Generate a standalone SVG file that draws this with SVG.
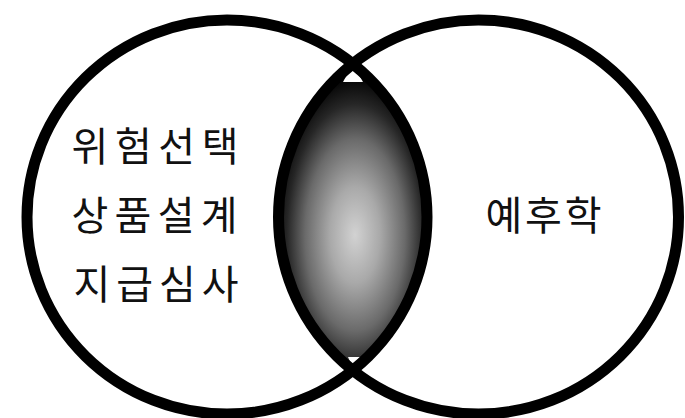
<svg xmlns="http://www.w3.org/2000/svg" width="685" height="418" viewBox="0 0 685 418">
  <style>
    .ring { fill: none; stroke: #000; stroke-width: 11; }
    .label { font-family: "Noto Sans CJK KR", "Noto Sans", sans-serif; font-size: 40px; fill: #111; }
    .tip { fill: #fff; }
  </style>
  <defs>
    <clipPath id="clipLeft">
      <ellipse cx="227" cy="217" rx="200" ry="197"/>
    </clipPath>
    <radialGradient id="lensGrad" gradientUnits="userSpaceOnUse" cx="355" cy="235" r="160"
      gradientTransform="translate(355 235) scale(0.52 1) translate(-355 -235)">
      <stop offset="0" stop-color="#d2d2d2"/>
      <stop offset="0.3" stop-color="#a9a9a9"/>
      <stop offset="0.6" stop-color="#6a6a6a"/>
      <stop offset="0.82" stop-color="#262626"/>
      <stop offset="1" stop-color="#000"/>
    </radialGradient>
  </defs>
  <rect x="0" y="0" width="685" height="418" fill="#fff"/>
  <g id="intersection">
    <ellipse cx="478.5" cy="217" rx="200" ry="197" fill="url(#lensGrad)" clip-path="url(#clipLeft)"/>
    <polygon class="tip" points="352.75,64 343,82 363,82"/>
    <polygon class="tip" points="348,357 362,357 352.75,368"/>
  </g>
  <g id="left-set">
    <ellipse class="ring" cx="227" cy="217" rx="200" ry="197"/>
    <text class="label" x="71.5" y="161" textLength="167" lengthAdjust="spacing">위험선택</text>
    <text class="label" x="71.5" y="230" textLength="166" lengthAdjust="spacing">상품설계</text>
    <text class="label" x="73.5" y="299" textLength="165" lengthAdjust="spacing">지급심사</text>
  </g>
  <g id="right-set">
    <ellipse class="ring" cx="478.5" cy="217" rx="200" ry="197"/>
    <text class="label" x="485.5" y="230" textLength="116" lengthAdjust="spacing">예후학</text>
  </g>
  <g id="connectors"/>
</svg>
